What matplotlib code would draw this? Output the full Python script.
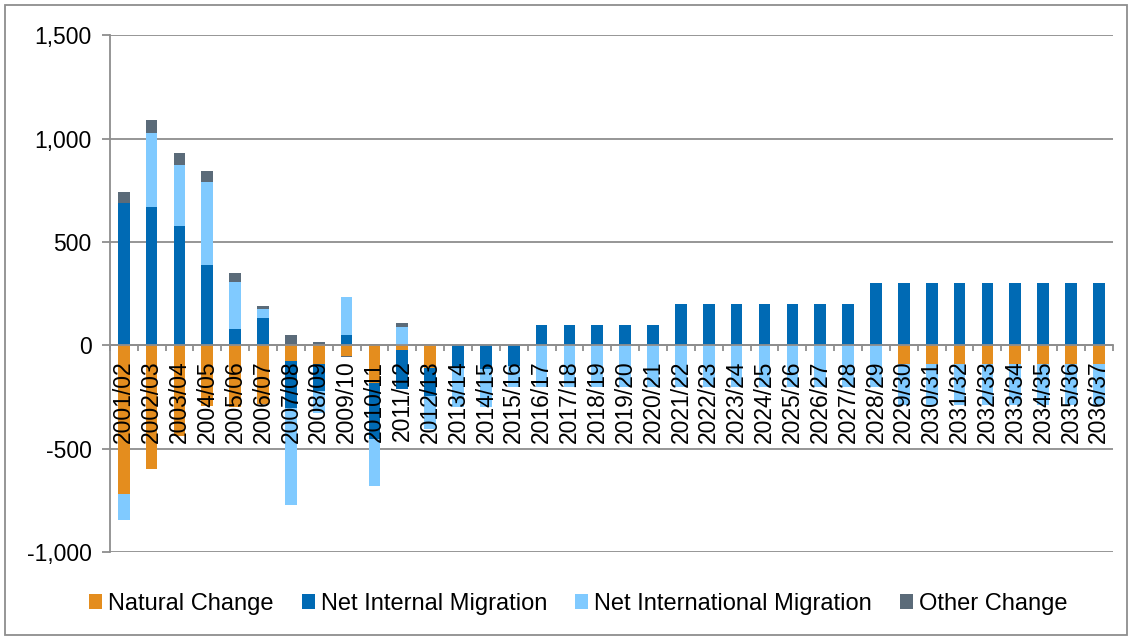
import matplotlib
matplotlib.use("Agg")
from matplotlib import pyplot as plt
from matplotlib.patches import Rectangle
from matplotlib.ticker import FuncFormatter, FixedLocator
import numpy as np

years = ["2001/02", "2002/03", "2003/04", "2004/05", "2005/06", "2006/07",
         "2007/08", "2008/09", "2009/10", "2010/11", "2011/12", "2012/13",
         "2013/14", "2014/15", "2015/16", "2016/17", "2017/18", "2018/19",
         "2019/20", "2020/21", "2021/22", "2022/23", "2023/24", "2024/25",
         "2025/26", "2026/27", "2027/28", "2028/29", "2029/30", "2030/31",
         "2031/32", "2032/33", "2033/34", "2034/35", "2035/36", "2036/37"]

natural = [-718, -598, -440, -293, -300, -285, -77, -90, -50, -181, -21, -109,
           0, 0, 0, 0, 0, 0, 0, 0, 0, 0, 0, 0, 0, 0, 0, 0,
           -90, -90, -90, -90, -90, -90, -90, -90]
internal = [687, 668, 575, 390, 77, 130, -224, -130, 48, -274, -189, -136,
            -104, -115, -100, 100, 100, 100, 100, 100,
            200, 200, 200, 200, 200, 200, 200,
            300, 300, 300, 300, 300, 300, 300, 300, 300]
international = [-128, 361, 297, 402, 231, 45, -469, -105, 185, -223, 87, -160,
                 -196, -181, -100,
                 -200, -200, -200, -200, -200, -200, -200, -200, -200, -200, -200,
                 -200, -200, -200, -200, -200, -200, -200, -200, -200, -200]
other = [53, 61, 58, 49, 42, 13, 51, 16, -5, 4, 19, 0,
         0, 0, 0, 0, 0, 0, 0, 0, 0, 0, 0, 0, 0, 0, 0, 0,
         0, 0, 0, 0, 0, 0, 0, 0]

series = [("Natural Change", natural, "#E48D1E"),
          ("Net Internal Migration", internal, "#006AB4"),
          ("Net International Migration", international, "#80CAFF"),
          ("Other Change", other, "#5B6B79")]

plt.rcParams["font.family"] = ["Liberation Sans", "DejaVu Sans"]
plt.rcParams["axes.unicode_minus"] = False

fig = plt.figure(figsize=(11.32, 6.39), dpi=100)
ax = fig.add_axes([0.097, 0.136, 0.886, 0.809])

x = np.arange(len(years))
pos_base = np.zeros(len(years))
neg_base = np.zeros(len(years))
for name, vals, col in series:
    v = np.array(vals, dtype=float)
    bottom = np.where(v >= 0, pos_base, neg_base)
    ax.bar(x, v, width=0.42, bottom=bottom, color=col, label=name, zorder=1)
    pos_base += np.where(v >= 0, v, 0)
    neg_base += np.where(v < 0, v, 0)

ax.set_ylim(-1000, 1500)
ax.set_xlim(-0.5, len(years) - 0.5)
ax.set_yticks(np.arange(-1000, 1501, 500))
ax.yaxis.set_major_formatter(FuncFormatter(lambda v, p: f"{int(v):,}"))
# gridlines behind the bars, tick labels stay on top
for yv in ax.get_yticks():
    ax.axhline(yv, color="#8e8e8e", linewidth=1.3, zorder=0)

ax.set_xticks(x)
ax.set_xticklabels(years)
ax.xaxis.set_minor_locator(FixedLocator(np.arange(-0.5, len(years), 1)))
ax.tick_params(axis="x", which="major", length=0, pad=11, labelsize=16.5,
               labelrotation=90)
ax.tick_params(axis="x", which="minor", length=4, width=1.3, color="#8e8e8e", direction="out")
ax.tick_params(axis="y", length=6, width=1.3, color="#8e8e8e", labelsize=16.5, pad=7)

for s in ["top", "right"]:
    ax.spines[s].set_visible(False)
ax.spines["bottom"].set_position(("data", 0))
ax.spines["bottom"].set_color("#8e8e8e")
ax.spines["bottom"].set_linewidth(1.3)
ax.spines["left"].set_color("#8e8e8e")
ax.spines["left"].set_linewidth(1.3)

fig.legend(loc="center", bbox_to_anchor=(0.511, 0.055), ncol=4, frameon=False,
           fontsize=17, handlelength=0.55, handleheight=0.55,
           handletextpad=0.25, columnspacing=1.2)

fig.patches.append(Rectangle((0.004, 0.007), 0.992, 0.985, transform=fig.transFigure,
                             fill=False, edgecolor="#8e8e8e", linewidth=1.3))

fig.savefig("out.png", dpi=100)
